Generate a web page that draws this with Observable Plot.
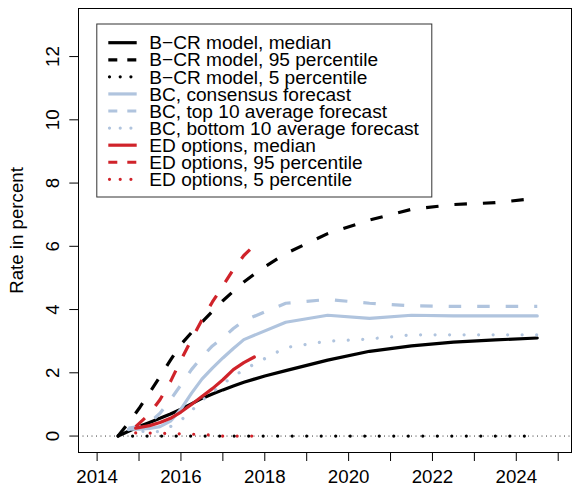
<!DOCTYPE html>
<html><head><meta charset="utf-8">
<script src="https://cdn.jsdelivr.net/npm/d3@7"></script>
<script src="https://cdn.jsdelivr.net/npm/@observablehq/plot@0.6"></script>
<style>
body{margin:0;background:#fff;}
#chart svg{display:block;}
</style>
</head><body><div id="chart"></div>
<script>
// ---- data ----
const bcrX = [2014.5, 2014.75, 2015, 2015.25, 2015.5, 2015.75, 2016, 2016.25, 2016.5, 2016.75, 2017, 2017.25, 2017.5, 2017.75, 2018, 2018.5, 2019.5, 2020.5, 2021.5, 2022.5, 2023.5, 2024.5];
const bcrMedian = [0, 0.15, 0.3, 0.43, 0.56, 0.7, 0.85, 1.02, 1.19, 1.33, 1.46, 1.58, 1.7, 1.8, 1.9, 2.07, 2.4, 2.68, 2.85, 2.97, 3.04, 3.1];
const bcrP95 = [0, 0.42, 0.87, 1.37, 1.88, 2.4, 2.9, 3.27, 3.6, 3.94, 4.28, 4.58, 4.87, 5.12, 5.35, 5.77, 6.4, 6.83, 7.17, 7.32, 7.38, 7.52];
const bcrP5 = [0, 0, 0, 0, 0, 0, 0, 0, 0, 0, 0, 0, 0, 0, 0, 0, 0, 0, 0, 0, 0, 0];

const bcX = [2014.75, 2015, 2015.25, 2015.5, 2015.75, 2016, 2016.25, 2016.5, 2016.75, 2017, 2017.25, 2017.5, 2018.5, 2019.5, 2020.5, 2021.5, 2022.5, 2023.5, 2024.5];
const bcConsensus = [0.22, 0.22, 0.24, 0.3, 0.47, 0.85, 1.35, 1.8, 2.15, 2.47, 2.77, 3.05, 3.6, 3.82, 3.72, 3.82, 3.8, 3.8, 3.8];
const bcTop10 = [0.25, 0.3, 0.42, 0.72, 1.15, 1.62, 2.1, 2.5, 2.85, 3.1, 3.4, 3.65, 4.2, 4.32, 4.2, 4.12, 4.1, 4.1, 4.1];
const bcBottom10 = [0.2, 0.16, 0.12, 0.15, 0.3, 0.5, 0.8, 1.12, 1.38, 1.65, 1.88, 2.1, 2.8, 3.0, 3.07, 3.2, 3.2, 3.2, 3.2];

const edX = [2014.92, 2015.25, 2015.5, 2015.75, 2016, 2016.25, 2016.5, 2016.75, 2017, 2017.25, 2017.5, 2017.75];
const edMedian = [0.25, 0.33, 0.43, 0.56, 0.76, 1.0, 1.25, 1.5, 1.78, 2.1, 2.32, 2.5];
const edP95 = [0.3, 0.7, 1.15, 1.72, 2.4, 3.05, 3.67, 4.24, 4.75, 5.27, 5.71, 6.03];
const edP5 = [0.1, 0.095, 0.09, 0.08, 0.07, 0.06, 0.05, 0.03, 0.0, 0.0, 0.0, 0.0];

const xTicks = [2014, 2015, 2016, 2017, 2018, 2019, 2020, 2021, 2022, 2023, 2024, 2025];
const yTicks = [0, 2, 4, 6, 8, 10, 12];
const legendLabels = [
  "B\u2212CR model, median", "B\u2212CR model, 95 percentile", "B\u2212CR model, 5 percentile",
  "BC, consensus forecast", "BC, top 10 average forecast", "BC, bottom 10 average forecast",
  "ED options, median", "ED options, 95 percentile", "ED options, 5 percentile"
];
const yLabel = "Rate in percent";

// ---- styles ----
const BLACK = "#000000", BLUE = "#b0c4de", RED = "#d0232a";
const FONT = "'Liberation Sans', Arial, Helvetica, sans-serif";
const FS = 18.7, LEGEND_FS = 19.1;
const LW = 3.2;
const styles = [
  {color: BLACK, type: "solid"}, {color: BLACK, type: "dashed"}, {color: BLACK, type: "dotted"},
  {color: BLUE, type: "solid"}, {color: BLUE, type: "dashed"}, {color: BLUE, type: "dotted"},
  {color: RED, type: "solid"}, {color: RED, type: "dashed"}, {color: RED, type: "dotted"}
];
const seriesData = [
  [bcrX, bcrMedian], [bcrX, bcrP95], [bcrX, bcrP5],
  [bcX, bcConsensus], [bcX, bcTop10], [bcX, bcBottom10],
  [edX, edMedian], [edX, edP95], [edX, edP5]
];
function lineStyle(s) {
  if (s.type === "dashed") return {stroke: s.color, strokeWidth: LW, strokeDasharray: "12.5,16", strokeLinecap: "butt", strokeLinejoin: "round"};
  if (s.type === "dotted") return {stroke: s.color, strokeWidth: LW, strokeDasharray: "0.01,14.5", strokeLinecap: "round"};
  return {stroke: s.color, strokeWidth: LW, strokeLinecap: "round", strokeLinejoin: "round"};
}

const lineMarks = seriesData.map(([xs, ys], i) =>
  Plot.line(d3.zip(xs, ys), {x: d => d[0], y: d => d[1], ...lineStyle(styles[i])})
);

const chart = Plot.plot({
  width: 573, height: 486,
  marginLeft: 78, marginRight: 2, marginTop: 8, marginBottom: 34,
  x: {domain: [2013.556, 2025.317]},
  y: {domain: [-0.52, 13.52]},
  style: {fontFamily: FONT, fontSize: FS + "px", background: "#ffffff", color: "#000"},
  marks: [
    Plot.ruleY([0], {stroke: "#000", strokeWidth: 0.8, strokeDasharray: "1,3.5"}),
    ...lineMarks,
    Plot.frame({stroke: "#000", strokeWidth: 1}),
    Plot.axisX({ticks: xTicks, tickSize: 9, tickPadding: 8, label: null,
      tickFormat: d => (d % 2 === 0 ? String(d) : ""), fontSize: FS}),
    Plot.axisY({ticks: yTicks, tickSize: 8.7, tickPadding: 11, label: null, tickRotate: -90,
      tickFormat: d => String(d), fontSize: FS}),
    Plot.text([yLabel], {text: d => d, frameAnchor: "left", dx: -56, rotate: -90,
      textAnchor: "middle", lineAnchor: "bottom", fontSize: FS})
  ]
});
document.getElementById("chart").appendChild(chart);

// ---- legend (inside the plot, top-left) ----
const svg = d3.select(chart);
const lg = svg.append("g").attr("font-family", FONT).attr("font-size", LEGEND_FS).attr("text-anchor", "start");
lg.append("rect").attr("x", 96.8).attr("y", 24).attr("width", 335).attr("height", 173)
  .attr("fill", "#fff").attr("stroke", "#333").attr("stroke-width", 1);
legendLabels.forEach((lab, i) => {
  const y = 42.7 + 17.08 * i;
  const s = styles[i];
  const ln = lg.append("line").attr("x1", 108.3).attr("x2", 136.7).attr("y1", y).attr("y2", y)
    .attr("stroke", s.color).attr("stroke-width", LW);
  if (s.type === "dashed") ln.attr("stroke-dasharray", "9,10").attr("stroke-linecap", "butt");
  else if (s.type === "dotted") ln.attr("stroke-dasharray", "0.01,10.7").attr("stroke-linecap", "round").attr("x1", 109.5);
  else ln.attr("stroke-linecap", "butt");
  lg.append("text").attr("x", 149.3).attr("y", y + 6.7).attr("fill", "#000")
    .attr("text-anchor", "start").text(lab);
});
</script>
</body></html>
